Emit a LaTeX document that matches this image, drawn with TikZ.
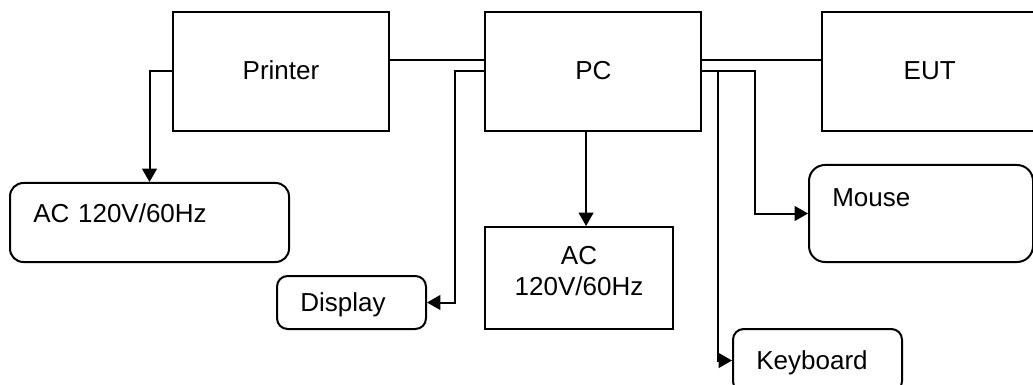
\documentclass[tikz,border=0pt]{standalone}
\usepackage{fontspec}
\setmainfont{Liberation Sans}
\usepackage{tikz}
\usetikzlibrary{arrows.meta, positioning, calc}

\begin{document}
\begin{tikzpicture}[x=0.75pt, y=-0.75pt, line width=1.5pt,
    >={Triangle[length=10pt, width=11pt]},
    every node/.style={font=\fontsize{19.5}{23.25}\selectfont, inner sep=0pt, text height=14pt, text depth=0pt},
    unit/.style={draw, rectangle, minimum width=162pt, minimum height=89.25pt},
    padded/.style={draw, rounded corners=8pt, align=left, inner xsep=17.5pt}]
      \useasboundingbox (0, 0) rectangle (1033, 385);
      \clip (0, 0) rectangle (1033, 385);

      \node[unit, text depth=2pt] (printer) at (281, 71.5) {Printer};
      \node[unit, text depth=2pt] (pc) at (593.4, 71.5) {PC};
      \node[unit, text depth=2pt] (eut) at (929.7, 71.5) {EUT};

      \node[padded, rounded corners=10pt, minimum width=209.25pt, minimum height=59.25pt, text width=174.25pt, text depth=13.5pt] (acleft) at (149.5, 222.5) {AC 120V/60Hz};
      \node[padded, minimum width=111.75pt, minimum height=39.75pt, text width=76.75pt] (display) at (351.5, 302.5) {Display};
      \node[draw, align=center, minimum width=141pt, minimum height=76.5pt, text height=37.25pt, text depth=11.25pt] (acmid) at (579, 278) {AC\\120V/60Hz};
      \node[padded, rounded corners=12pt, minimum width=168pt, minimum height=72.75pt, text width=133pt, text depth=24.8pt] (mouse) at (921, 213.5) {Mouse};
      \node[padded, minimum width=126.75pt, minimum height=47.25pt, text width=91.75pt] (keyboard) at (817.5, 360.5) {Keyboard};

      \draw ([yshift=8.6pt]printer.east) -- ([yshift=8.6pt]pc.west);
      \draw ([yshift=8.6pt]pc.east) -- ([yshift=8.6pt]eut.west);
      \draw[->] (printer.west) -| (acleft.north);
      \draw[->] (pc.west) -- ++(-29, 0) |- (display.east);
      \draw[->] ([xshift=-5.5pt]pc.south) -- ([xshift=-5.5pt]pc.south |- acmid.north);
      \draw[->] (pc.east) -- ++(53, 0) |- (mouse.west);
      \draw[->] (pc.east) -- ++(16, 0) |- (keyboard.west);
\end{tikzpicture}
\end{document}
